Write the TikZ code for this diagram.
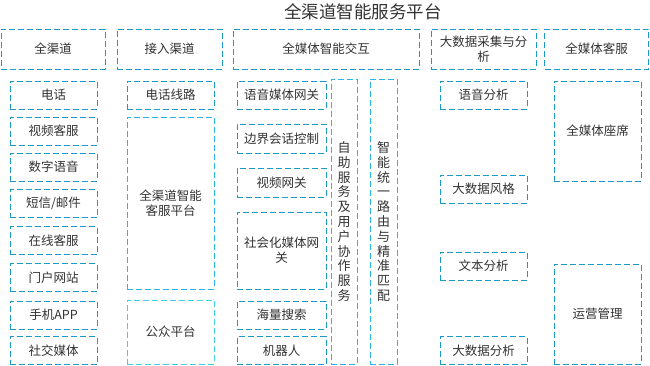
\documentclass[tikz,border=0pt]{standalone}
\usepackage{fontspec}
\setmainfont{Noto Sans CJK SC}
\definecolor{bdark}{HTML}{1A98C8}
\definecolor{blight}{HTML}{2BB5EE}
\definecolor{bcyan}{HTML}{3FCFE6}
\definecolor{txt}{HTML}{333333}
\tikzset{
  box/.style={draw=bdark, line width=1pt, dash pattern=on 6pt off 3pt,
    rectangle, inner sep=0pt, align=center, text=txt,
    font=\fontsize{12.5}{15}\selectfont},
  lbox/.style={box, draw=blight},
  cbox/.style={box, draw=bcyan},
  vtext/.style={lbox, font=\fontsize{13}{14.8}\selectfont},
}
\begin{document}
\begin{tikzpicture}[x=1pt,y=-1pt]
\useasboundingbox (0,0) rectangle (650,365);
\node[text=txt, font=\fontsize{17.5}{19}\selectfont] (title) at (363,12) {全渠道智能服务平台};
% headers
\node[box, minimum width=104pt, minimum height=40pt] (h1) at (53,49) {全渠道};
\node[box, minimum width=105pt, minimum height=40pt] (h2) at (169.5,49) {接入渠道};
\node[box, minimum width=186pt, minimum height=40pt] (h3) at (326,49) {全媒体智能交互};
\node[box, minimum width=105pt, minimum height=40pt] (h4) at (483.5,49) {大数据采集与分\\析};
\node[box, minimum width=104pt, minimum height=40pt] (h5) at (596.5,49) {全媒体客服};
% column 1
\node[box, minimum width=87pt, minimum height=28pt] (c1a) at (53.5,95) {电话};
\node[box, minimum width=87pt, minimum height=28pt] (c1b) at (53.5,131) {视频客服};
\node[box, minimum width=87pt, minimum height=28pt] (c1c) at (53.5,167) {数字语音};
\node[box, minimum width=87pt, minimum height=28pt] (c1d) at (53.5,203.5) {短信/邮件};
\node[box, minimum width=87pt, minimum height=28pt] (c1e) at (53.5,240.5) {在线客服};
\node[box, minimum width=87pt, minimum height=28pt] (c1f) at (53.5,277.5) {门户网站};
\node[box, minimum width=87pt, minimum height=28pt] (c1g) at (53.5,315) {手机APP};
\node[box, minimum width=87pt, minimum height=28pt] (c1h) at (53.5,350.5) {社交媒体};
% column 2
\node[box, minimum width=87pt, minimum height=28pt] (c2a) at (170.5,95) {电话线路};
\node[lbox, minimum width=87pt, minimum height=172pt] (c2b) at (170.5,203) {全渠道智能\\客服平台};
\node[cbox, minimum width=87pt, minimum height=64pt] (c2c) at (170.5,332) {公众平台};
% column 3
\node[box, minimum width=89pt, minimum height=28pt] (c3a) at (281.5,95) {语音媒体网关};
\node[box, minimum width=89pt, minimum height=29pt] (c3b) at (281.5,138.5) {边界会话控制};
\node[box, minimum width=89pt, minimum height=29pt] (c3c) at (281.5,182.5) {视频网关};
\node[box, minimum width=89pt, minimum height=77pt] (c3d) at (281.5,250.5) {社会化媒体网\\关};
\node[box, minimum width=89pt, minimum height=28pt] (c3e) at (281.5,315) {海量搜索};
\node[box, minimum width=89pt, minimum height=28pt] (c3f) at (281.5,350.5) {机器人};
% vertical boxes
\node[vtext, minimum width=26pt, minimum height=285pt] (v1) at (344,221.5) {自\\助\\服\\务\\及\\用\\户\\协\\作\\服\\务};
\node[vtext, minimum width=27pt, minimum height=285pt] (v2) at (383.5,221.5) {智\\能\\统\\一\\路\\由\\与\\精\\准\\匹\\配};
% column 4
\node[box, minimum width=87pt, minimum height=28pt] (c4a) at (483.5,95) {语音分析};
\node[box, minimum width=87pt, minimum height=28pt] (c4b) at (483.5,189) {大数据风格};
\node[box, minimum width=87pt, minimum height=28pt] (c4c) at (483.5,266) {文本分析};
\node[box, minimum width=87pt, minimum height=28pt] (c4d) at (483.5,350.5) {大数据分析};
% column 5
\node[box, minimum width=87pt, minimum height=100pt] (c5a) at (597.5,131) {全媒体座席};
\node[box, minimum width=87pt, minimum height=100pt] (c5b) at (597.5,314) {运营管理};
\end{tikzpicture}
\end{document}
